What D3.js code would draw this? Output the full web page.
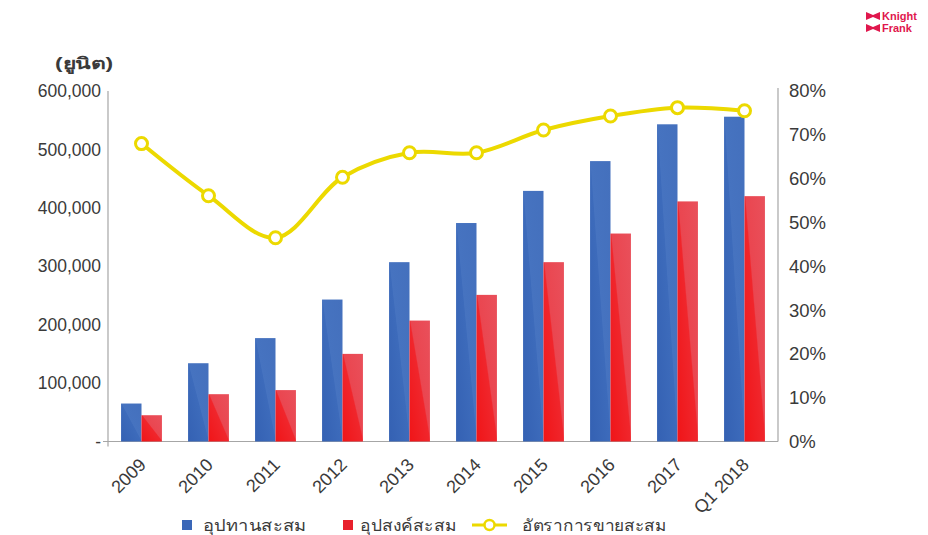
<!DOCTYPE html>
<html>
<head>
<meta charset="utf-8">
<script src="https://cdn.jsdelivr.net/npm/d3@7"></script>
<style>
  html, body { margin: 0; padding: 0; background: #fff; }
  svg { display: block; }
  text { font-family: "Liberation Sans", Arial, "Noto Sans", sans-serif; }
</style>
</head>
<body>
<svg id="chart" width="928" height="535"></svg>
<script>
// Cumulative condominium supply / demand (units) and cumulative sales rate
const categories = ["2009", "2010", "2011", "2012", "2013", "2014", "2015", "2016", "2017", "Q1 2018"];
const supply = [65000, 134000, 177000, 243000, 307000, 374000, 429000, 480000, 543000, 556000];
const demand = [45000, 81000, 88000, 150000, 207000, 251000, 307000, 356000, 411000, 420000];
const salesRate = [0.68, 0.561, 0.465, 0.603, 0.659, 0.659, 0.711, 0.743, 0.762, 0.755];

const leftTicks = [0, 100000, 200000, 300000, 400000, 500000, 600000];
const rightTicks = [0, 0.1, 0.2, 0.3, 0.4, 0.5, 0.6, 0.7, 0.8];

const seriesNames = ["อุปทานสะสม", "อุปสงค์สะสม", "อัตราการขายสะสม"];
const unitLabel = "(ยูนิต)";

const svg = d3.select("#chart");
const plotL = 108, plotR = 778, plotT = 91, plotB = 441.5;

const x = d3.scaleBand().domain(categories).range([plotL, plotR]).paddingInner(0.39).paddingOuter(0.195);
const xs = d3.scaleBand().domain(["supply", "demand"]).range([0, x.bandwidth()]);
const yL = d3.scaleLinear().domain([0, 600000]).range([plotB, plotT]);
const yR = d3.scaleLinear().domain([0, 0.8]).range([plotB, plotT]);

// bar fills
const defs = svg.append("defs");
const gBlue = defs.append("linearGradient").attr("id", "gBlue")
  .attr("x1", 0).attr("y1", 1).attr("x2", 1).attr("y2", 0);
gBlue.append("stop").attr("offset", "0%").attr("stop-color", "#3461b3");
gBlue.append("stop").attr("offset", "50%").attr("stop-color", "#3d6bbb");
gBlue.append("stop").attr("offset", "52%").attr("stop-color", "#4673c0");
gBlue.append("stop").attr("offset", "100%").attr("stop-color", "#4470bd");
const gRed = defs.append("linearGradient").attr("id", "gRed")
  .attr("x1", 0).attr("y1", 1).attr("x2", 1).attr("y2", 0);
gRed.append("stop").attr("offset", "0%").attr("stop-color", "#f01518");
gRed.append("stop").attr("offset", "50%").attr("stop-color", "#f0262c");
gRed.append("stop").attr("offset", "53%").attr("stop-color", "#ea4650");
gRed.append("stop").attr("offset", "100%").attr("stop-color", "#e9505b");

// axis lines
const axisColor = "#a6a6a6";
svg.append("line").attr("x1", plotL).attr("x2", plotL).attr("y1", plotT).attr("y2", plotB + 5)
  .attr("stroke", axisColor).attr("stroke-width", 1.2);
svg.append("line").attr("x1", plotR).attr("x2", plotR).attr("y1", plotT - 3).attr("y2", plotB)
  .attr("stroke", axisColor).attr("stroke-width", 1.2);
svg.append("line").attr("x1", plotL - 5).attr("x2", plotR).attr("y1", plotB).attr("y2", plotB)
  .attr("stroke", axisColor).attr("stroke-width", 1.2);

// left axis labels
const fmt = d3.format(",");
svg.append("g").selectAll("text").data(leftTicks).join("text")
  .attr("x", 101).attr("y", d => yL(d)).attr("dy", "0.35em")
  .attr("text-anchor", "end").attr("font-size", 17.5).attr("fill", "#3a3a3a")
  .text(d => d === 0 ? "-" : fmt(d));

svg.append("text").attr("x", 113).attr("y", 63).attr("dy", "0.35em")
  .attr("text-anchor", "end").attr("font-size", 16).attr("fill", "#3a3a3a")
  .attr("font-weight", "bold")
  .attr("textLength", 58).attr("lengthAdjust", "spacingAndGlyphs")
  .text(unitLabel);

// right axis labels
svg.append("g").selectAll("text").data(rightTicks).join("text")
  .attr("x", 789).attr("y", d => yR(d)).attr("dy", "0.35em")
  .attr("text-anchor", "start").attr("font-size", 18.5).attr("fill", "#3a3a3a")
  .text(d => d3.format(".0%")(d));

// x labels
svg.append("g").selectAll("text").data(categories).join("text")
  .attr("transform", d => `translate(${x(d) + x.bandwidth() / 2 + 1},${plotB + 20}) rotate(-45)`)
  .attr("text-anchor", "end").attr("dy", "0.35em")
  .attr("font-size", 18).attr("fill", "#3a3a3a")
  .text(d => d);

// bars
const bars = svg.append("g");
bars.selectAll("rect.s").data(categories).join("rect").attr("class", "s")
  .attr("x", (d) => x(d) + xs("supply"))
  .attr("width", xs.bandwidth())
  .attr("y", (d, i) => yL(supply[i]))
  .attr("height", (d, i) => plotB - yL(supply[i]))
  .attr("fill", "url(#gBlue)");
bars.selectAll("rect.d").data(categories).join("rect").attr("class", "d")
  .attr("x", (d) => x(d) + xs("demand"))
  .attr("width", xs.bandwidth())
  .attr("y", (d, i) => yL(demand[i]))
  .attr("height", (d, i) => plotB - yL(demand[i]))
  .attr("fill", "url(#gRed)");

// sales rate line
const lineColor = "#ecd900";
const pts = categories.map((c, i) => [x(c) + x.bandwidth() / 2, yR(salesRate[i])]);
svg.append("path").datum(pts)
  .attr("d", d3.line().curve(d3.curveCatmullRom.alpha(0.5)))
  .attr("fill", "none").attr("stroke", lineColor).attr("stroke-width", 4)
  .attr("stroke-linejoin", "round");
svg.append("g").selectAll("circle").data(pts).join("circle")
  .attr("cx", d => d[0]).attr("cy", d => d[1]).attr("r", 6)
  .attr("fill", "#fff").attr("stroke", lineColor).attr("stroke-width", 3);

// legend
const lg = svg.append("g").attr("font-size", 16).attr("fill", "#3a3a3a");
const ly = 525;
lg.append("rect").attr("x", 182).attr("y", ly - 5).attr("width", 10).attr("height", 10).attr("fill", "#3a67b8");
lg.append("text").attr("x", 203).attr("y", ly).attr("dy", "0.35em")
  .attr("textLength", 104).attr("lengthAdjust", "spacingAndGlyphs").text(seriesNames[0]);
lg.append("rect").attr("x", 343).attr("y", ly - 5).attr("width", 10).attr("height", 10).attr("fill", "#e8202c");
lg.append("text").attr("x", 360).attr("y", ly).attr("dy", "0.35em")
  .attr("textLength", 97).attr("lengthAdjust", "spacingAndGlyphs").text(seriesNames[1]);
lg.append("line").attr("x1", 472).attr("x2", 507).attr("y1", ly).attr("y2", ly)
  .attr("stroke", lineColor).attr("stroke-width", 3);
lg.append("circle").attr("cx", 489.5).attr("cy", ly).attr("r", 5)
  .attr("fill", "#fff").attr("stroke", lineColor).attr("stroke-width", 2.5);
lg.append("text").attr("x", 522).attr("y", ly).attr("dy", "0.35em")
  .attr("textLength", 145).attr("lengthAdjust", "spacingAndGlyphs").text(seriesNames[2]);

// brand mark
const logo = svg.append("g").attr("fill", "#e0174d");
logo.append("path").attr("d", "M866,12 L873,15 L880,12 L880,20 L873,17 L866,20 Z");
logo.append("path").attr("d", "M866,24 L873,27 L880,24 L880,32 L873,29 L866,32 Z");
logo.append("text").attr("x", 882).attr("y", 20).attr("font-size", 11).attr("font-weight", "bold").text("Knight");
logo.append("text").attr("x", 882).attr("y", 32).attr("font-size", 11).attr("font-weight", "bold").text("Frank");
</script>
</body>
</html>
